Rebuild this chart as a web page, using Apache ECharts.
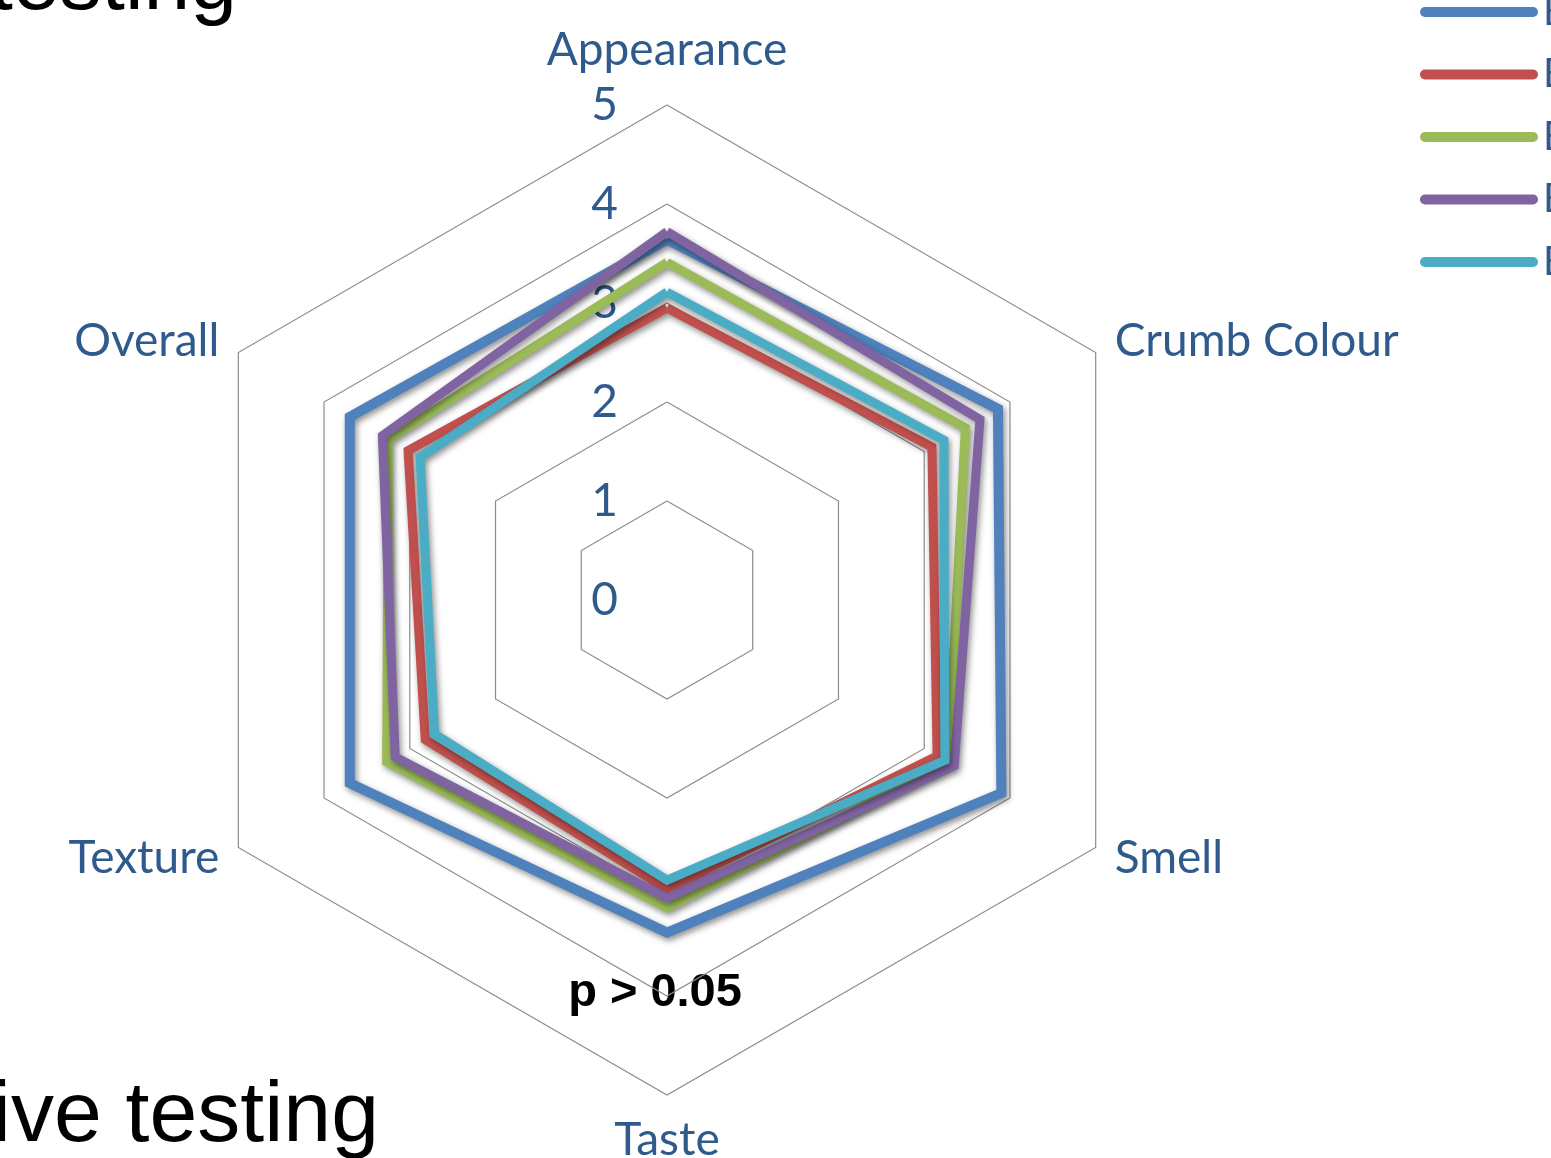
<!DOCTYPE html>
<html>
<head>
<meta charset="utf-8">
<title>Radar</title>
<script src="https://cdn.jsdelivr.net/npm/echarts@6/dist/echarts.min.js"></script>
<style>
  * { margin: 0; padding: 0; }
  html, body { width: 1551px; height: 1158px; background: #fff; overflow: hidden; }
  #main { width: 1551px; height: 1158px; }
</style>
</head>
<body>
<div id="main"></div>
<script>
// axes, going round counter-clockwise from the top (echarts order)
var indicators = ['Appearance', 'Overall', 'Texture', 'Taste', 'Smell', 'Crumb Colour'];
var ticks = [0, 1, 2, 3, 4, 5];

var seriesNames = ['Bread A', 'Bread B', 'Bread C', 'Bread D', 'Bread E'];
var colors = ['#4F81BD', '#C0504D', '#9BBB59', '#8064A2', '#4BACC6'];

// values, same order as indicators
var breadA = [3.64, 3.70, 3.70, 3.36, 3.90, 3.86];
var breadB = [2.95, 3.02, 2.82, 2.92, 3.15, 3.09];
var breadC = [3.41, 3.25, 3.27, 3.11, 3.28, 3.48];
var breadD = [3.72, 3.32, 3.17, 3.01, 3.35, 3.65];
var breadE = [3.11, 2.88, 2.71, 2.83, 3.24, 3.23];

var allValues = [breadA, breadB, breadC, breadD, breadE];

var labelColor = '#2E5A8C';
var labelFont = 'Lato';

var chart = echarts.init(document.getElementById('main'));

var radarData = allValues.map(function (v, i) {
    return {
        name: seriesNames[i],
        value: v,
        symbol: 'none',
        itemStyle: { color: colors[i] },
        lineStyle: {
            color: colors[i],
            width: i === 0 ? 10 : 9,
            join: 'miter',
            shadowBlur: 6,
            shadowColor: 'rgba(0,0,0,0.45)',
            shadowOffsetX: 2,
            shadowOffsetY: 3
        }
    };
});

chart.setOption({
    backgroundColor: '#fff',
    animation: false,
    legend: {
        orient: 'vertical',
        left: 1420,
        top: -13,
        padding: 0,
        itemWidth: 118,
        itemHeight: 10,
        itemGap: 12.5,
        icon: 'path://M5,0 L113,0 A5,5 0 0 1 113,10 L5,10 A5,5 0 0 1 5,0 Z',
        data: seriesNames,
        textStyle: { color: labelColor, fontFamily: labelFont, fontSize: 40, lineHeight: 50 }
    },
    radar: {
        center: [667, 600],
        radius: 495,
        startAngle: 90,
        splitNumber: 5,
        shape: 'polygon',
        indicator: indicators.map(function (n) { return { name: n, min: 0, max: 5 }; }),
        nameGap: 22,
        axisName: {
            color: labelColor,
            fontFamily: labelFont,
            fontSize: 46,
            formatter: function (name) {
                return name === 'Appearance' ? '{top|' + name + '}' : name;
            },
            rich: {
                top: { color: labelColor, fontFamily: labelFont, fontSize: 46, padding: [0, 0, 10, 0] }
            }
        },
        axisLine: { show: false },
        axisTick: { show: false },
        axisLabel: { show: false },
        splitArea: { show: false },
        splitLine: { lineStyle: { color: '#8C8C8C', width: 1.2 } }
    },
    // tick labels 0..5 along the Appearance spoke
    grid: { left: 626, width: 2, top: 105, height: 495 },
    xAxis: { type: 'value', show: false },
    yAxis: {
        type: 'value',
        min: ticks[0],
        max: ticks[ticks.length - 1],
        interval: 1,
        axisLine: { show: false },
        axisTick: { show: false },
        splitLine: { show: false },
        axisLabel: { color: labelColor, fontFamily: labelFont, fontSize: 46, margin: 8 }
    },
    graphic: [
        {
            type: 'text', right: 1551 - 237, top: -56,
            style: { text: 'Sensory testing', font: '84px "Liberation Sans", Arial', fill: '#000', textAlign: 'right' }
        },
        {
            type: 'text', x: 379, y: 1117,
            style: { text: 'Affective testing', font: '86px "Liberation Sans", Arial', fill: '#000', textAlign: 'right', textVerticalAlign: 'middle' }
        },
        {
            type: 'text', x: 655, y: 993,
            style: { text: 'p > 0.05', font: 'bold 47px "Liberation Sans", Arial', fill: '#000', textAlign: 'center', textVerticalAlign: 'middle' }
        }
    ],
    series: [
        {
            type: 'radar',
            symbol: 'none',
            data: radarData
        }
    ]
});
</script>
</body>
</html>
